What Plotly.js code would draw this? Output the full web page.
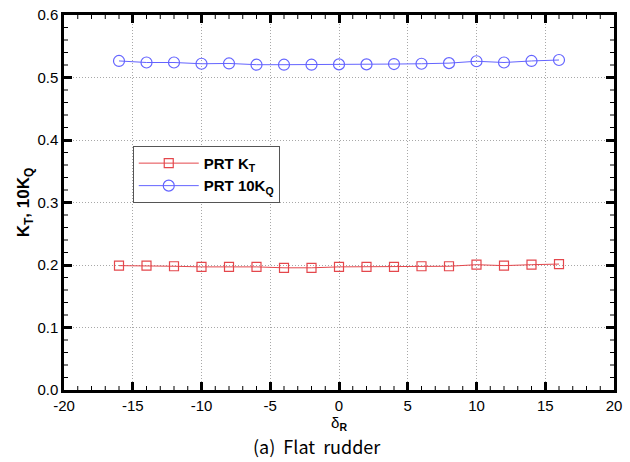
<!DOCTYPE html>
<html>
<head>
<meta charset="utf-8">
<script src="https://cdn.plot.ly/plotly-3.0.1.min.js"></script>
<style>html,body{margin:0;padding:0;background:#fff;}#chart{width:630px;height:462px;}</style>
</head>
<body>
<div id="chart"></div>
<script>
const deltaR = [-16, -14, -12, -10, -8, -6, -4, -2, 0, 2, 4, 6, 8, 10, 12, 14, 16];
const prtKT = [0.199, 0.199, 0.198, 0.197, 0.197, 0.197, 0.1955, 0.1955, 0.197, 0.197, 0.197, 0.198, 0.198, 0.2005, 0.199, 0.2005, 0.2015];
const prt10KQ = [0.5265, 0.524, 0.524, 0.522, 0.5225, 0.5205, 0.5205, 0.5205, 0.521, 0.521, 0.5215, 0.522, 0.523, 0.526, 0.524, 0.5265, 0.528];
const seriesNames = ['<b>PRT K<sub>T</sub></b>', '<b>PRT 10K<sub>Q</sub></b>'];
const xTicks = [-20, -15, -10, -5, 0, 5, 10, 15, 20];
const yTicks = [0, 0.1, 0.2, 0.3, 0.4, 0.5, 0.6];
const xMinorStep = 1;
const yMinorStep = 0.02;

const traces = [
  {x: deltaR, y: prtKT, name: seriesNames[0], mode: 'lines+markers', type: 'scatter',
   line: {color: '#e4474c', width: 1},
   marker: {symbol: 'square-open', size: 9, color: '#e4474c', line: {width: 1.2}}},
  {x: deltaR, y: prt10KQ, name: seriesNames[1], mode: 'lines+markers', type: 'scatter',
   line: {color: '#6464ff', width: 1},
   marker: {symbol: 'circle-open', size: 11, color: '#6464ff', line: {width: 1.2}}}
];

function axis(extra) {
  return Object.assign({
    showline: true, linecolor: '#000', linewidth: 2.5, mirror: 'ticks',
    ticks: 'inside', ticklen: 8, tickwidth: 2.5, tickcolor: '#000',
    showgrid: true, gridcolor: '#a8a8a8', gridwidth: 1, griddash: '1px,2px',
    zeroline: false,
    tickfont: {family: 'Liberation Sans, Arial, sans-serif', size: 15, color: '#000'}
  }, extra);
}

// minor tick marks (axis decoration) built from axis ranges
const shapes = [];
const xr = [xTicks[0], xTicks[xTicks.length - 1]];
const yr = [yTicks[0], yTicks[yTicks.length - 1]];
const nx = Math.round((xr[1] - xr[0]) / xMinorStep);
for (let i = 1; i < nx; i++) {
  const v = xr[0] + i * xMinorStep;
  if (i % 5 === 0) continue;
  shapes.push({type: 'line', xref: 'x', yref: 'paper', ysizemode: 'pixel', yanchor: 0, x0: v, x1: v, y0: 0, y1: 4, line: {color: '#000', width: 1}});
  shapes.push({type: 'line', xref: 'x', yref: 'paper', ysizemode: 'pixel', yanchor: 1, x0: v, x1: v, y0: 0, y1: -4, line: {color: '#000', width: 1}});
}
const ny = Math.round((yr[1] - yr[0]) / yMinorStep);
for (let i = 1; i < ny; i++) {
  if (i % 5 === 0) continue;
  const v = yr[0] + i * yMinorStep;
  shapes.push({type: 'line', xref: 'paper', yref: 'y', xsizemode: 'pixel', xanchor: 0, x0: 0, x1: 4, y0: v, y1: v, line: {color: '#000', width: 1}});
  shapes.push({type: 'line', xref: 'paper', yref: 'y', xsizemode: 'pixel', xanchor: 1, x0: 0, x1: -4, y0: v, y1: v, line: {color: '#000', width: 1}});
}

const layout = {
  width: 630, height: 462,
  margin: {l: 64, r: 16, t: 15, b: 72},
  paper_bgcolor: '#fff', plot_bgcolor: '#fff',
  font: {family: 'Liberation Sans, Arial, sans-serif', size: 15, color: '#000'},
  showlegend: true,
  legend: {x: 0.125, y: 0.651, xanchor: 'left', yanchor: 'top',
    bgcolor: '#fff', bordercolor: '#555', borderwidth: 1,
    font: {family: 'Liberation Sans, Arial, sans-serif', size: 15, color: '#000'},
    itemwidth: 60, tracegroupgap: 0},
  xaxis: axis({
    range: xr, tickmode: 'array', tickvals: xTicks, ticktext: xTicks.map(String),
    title: {text: 'δ<sub><b>R</b></sub>', font: {family: 'Liberation Sans, Arial, sans-serif', size: 15}, standoff: 0}
  }),
  yaxis: axis({
    range: yr, tickmode: 'array', tickvals: yTicks, ticktext: yTicks.map(v => v.toFixed(1)),
    title: {text: '<b>K<sub>T</sub>, 10K<sub>Q</sub></b>', font: {family: 'Liberation Sans, Arial, sans-serif', size: 17}, standoff: 4}
  }),
  shapes: shapes,
  annotations: [{
    text: '(a)  Flat  rudder', xref: 'paper', yref: 'paper', x: 0.46, y: -0.15,
    xanchor: 'center', yanchor: 'middle', showarrow: false,
    font: {family: 'Noto Sans CJK KR, Noto Sans, sans-serif', size: 18, color: '#000'}
  }]
};

Plotly.newPlot('chart', traces, layout, {displayModeBar: false});
</script>
</body>
</html>
